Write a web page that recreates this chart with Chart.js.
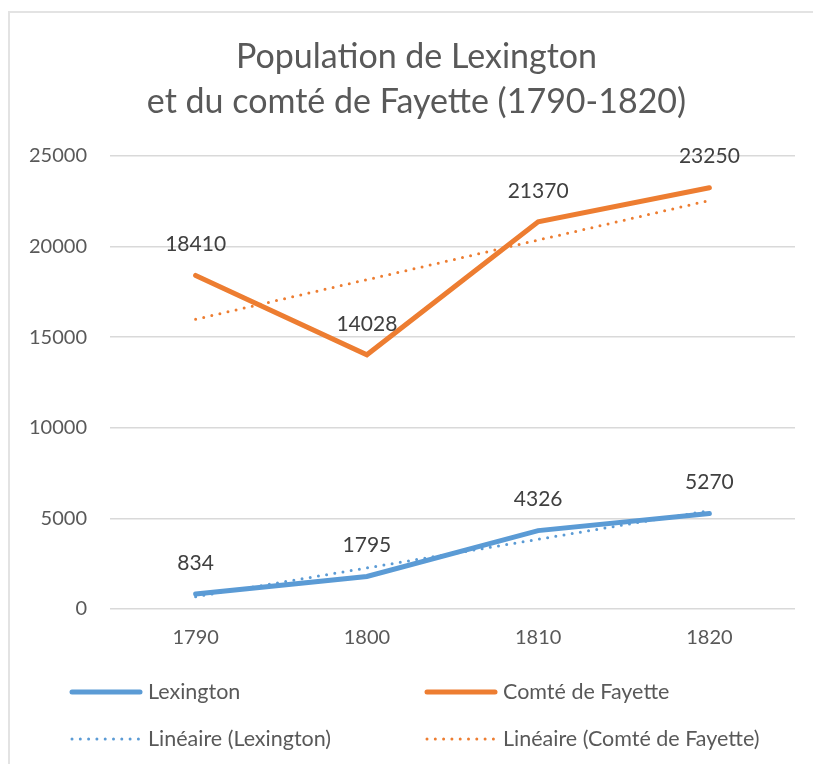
<!DOCTYPE html>
<html>
<head>
<meta charset="utf-8">
<title>Population de Lexington et du comté de Fayette</title>
<script src="https://cdn.jsdelivr.net/npm/chart.js@4.4.1/dist/chart.umd.min.js"></script>
<style>
	html, body { margin: 0; padding: 0; background: #fff; }
	#frame {
		position: absolute; left: 8px; top: 11px; width: 830px; height: 780px;
		border: 2px solid #e3e3e3; box-sizing: border-box;
	}
	#wrap { position: absolute; left: 0; top: 0; width: 813px; height: 764px; }
</style>
</head>
<body>
<div id="frame"></div>
<div id="wrap"><canvas id="popChart"></canvas></div>
<script>
// Census years and population counts
const years = ["1790", "1800", "1810", "1820"];
const lexington = [834, 1795, 4326, 5270];
const fayette = [18410, 14028, 21370, 23250];
// Linear trend lines, values at each census year
const lexingtonTrend = [680, 2265, 3850, 5430];
const fayetteTrend = [15990, 18175, 20360, 22545];
const yTicks = [0, 5000, 10000, 15000, 20000, 25000];
const titleLines = ["Population de Lexington", "et du comté de Fayette (1790-1820)"];

const FONT = "Lato, 'Open Sans', sans-serif";
const BLUE = "#5b9bd5";
const ORANGE = "#ed7d31";

// Two-line title, centred on the framed area
const frameTitle = {
	id: "frameTitle",
	afterDraw(chart) {
		const ctx = chart.ctx;
		ctx.save();
		ctx.font = "34px " + FONT;
		ctx.fillStyle = "#595959";
		ctx.textAlign = "center";
		ctx.textBaseline = "middle";
		titleLines.forEach((line, i) => {
			ctx.fillText(line, 416.5, 57 + i * 45.5);
		});
		ctx.restore();
	},
};

// Value labels above each point of the main series
const valueLabels = {
	id: "valueLabels",
	afterDatasetsDraw(chart) {
		const ctx = chart.ctx;
		ctx.save();
		ctx.font = "21px " + FONT;
		ctx.fillStyle = "#404040";
		ctx.textAlign = "center";
		ctx.textBaseline = "middle";
		chart.data.datasets.forEach((ds, i) => {
			if (!ds.showValues) return;
			chart.getDatasetMeta(i).data.forEach((pt, j) => {
				ctx.fillText(String(ds.data[j]), pt.x, pt.y - 31);
			});
		});
		ctx.restore();
	},
};

// Two-column legend under the plot
const gridLegend = {
	id: "gridLegend",
	afterDraw(chart) {
		const ctx = chart.ctx;
		const colX = [70, 425];
		const rowY = [692, 739];
		ctx.save();
		ctx.font = "21.5px " + FONT;
		ctx.textBaseline = "middle";
		ctx.textAlign = "left";
		chart.data.datasets.forEach((ds, i) => {
			const x = colX[i % 2];
			const y = rowY[Math.floor(i / 2)];
			ctx.strokeStyle = ds.borderColor;
			ctx.lineCap = "round";
			ctx.lineWidth = ds.borderWidth;
			ctx.setLineDash(ds.borderDash || []);
			ctx.beginPath();
			ctx.moveTo(x + 2, y);
			ctx.lineTo(x + 70, y);
			ctx.stroke();
			ctx.setLineDash([]);
			ctx.fillStyle = "#595959";
			ctx.fillText(ds.label, x + 78, y);
		});
		ctx.restore();
	},
};

const ctx = document.getElementById("popChart").getContext("2d");
new Chart(ctx, {
	type: "line",
	data: {
		labels: years,
		datasets: [
			{
				label: "Lexington",
				data: lexington,
				borderColor: BLUE,
				borderWidth: 5,
				borderCapStyle: "round",
				pointRadius: 0,
				showValues: true,
				order: 2,
			},
			{
				label: "Comté de Fayette",
				data: fayette,
				borderColor: ORANGE,
				borderWidth: 5,
				borderCapStyle: "round",
				pointRadius: 0,
				showValues: true,
				order: 2,
			},
			{
				label: "Linéaire (Lexington)",
				data: lexingtonTrend,
				borderColor: BLUE,
				borderWidth: 3,
				borderDash: [0, 8.3],
				borderCapStyle: "round",
				pointRadius: 0,
				order: 1,
			},
			{
				label: "Linéaire (Comté de Fayette)",
				data: fayetteTrend,
				borderColor: ORANGE,
				borderWidth: 3,
				borderDash: [0, 8.3],
				borderCapStyle: "round",
				pointRadius: 0,
				order: 1,
			},
		],
	},
	options: {
		responsive: true,
		maintainAspectRatio: false,
		animation: false,
		layout: { padding: { left: 0, right: 18, top: 156, bottom: 105 } },
		elements: { line: { tension: 0 } },
		plugins: {
			legend: { display: false },
			tooltip: { enabled: false },
			title: { display: false },
		},
		scales: {
			x: {
				offset: true,
				grid: { display: false },
				border: { display: false },
				ticks: { color: "#595959", font: { family: FONT, size: 20 }, padding: 9 },
			},
			y: {
				min: 0,
				max: 25000,
				afterBuildTicks: (scale) => {
					scale.ticks = yTicks.map((v) => ({ value: v }));
				},
				afterFit: (scale) => {
					scale.width = 110;
				},
				grid: { color: "#d9d9d9", lineWidth: 1.5, drawTicks: false },
				border: { display: false },
				ticks: {
					color: "#595959",
					font: { family: FONT, size: 20 },
					padding: 23,
					callback: (v) => String(v),
				},
			},
		},
	},
	plugins: [frameTitle, valueLabels, gridLegend],
});
</script>
</body>
</html>
